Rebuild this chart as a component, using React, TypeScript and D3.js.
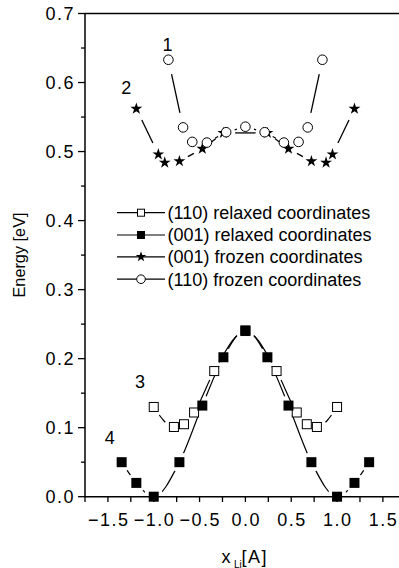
import React from 'react';
import * as d3 from 'd3';

const W = 399;
const H = 568;

// Li position (Å) and energy (eV) for each curve
const relaxed110X = [-1.0, -0.78, -0.67, -0.56, -0.34, 0, 0.34, 0.56, 0.67, 0.78, 1.0];
const relaxed110E = [0.13, 0.101, 0.105, 0.122, 0.182, 0.24, 0.182, 0.122, 0.105, 0.101, 0.13];
const relaxed001X = [-1.35, -1.19, -1.0, -0.72, -0.47, -0.24, 0, 0.24, 0.47, 0.72, 1.0, 1.19, 1.35];
const relaxed001E = [0.05, 0.02, 0.0, 0.05, 0.132, 0.202, 0.241, 0.202, 0.132, 0.05, 0.0, 0.02, 0.05];
const frozen001X = [-1.19, -0.95, -0.88, -0.72, -0.47, -0.24, 0.24, 0.47, 0.72, 0.88, 0.95, 1.19];
const frozen001E = [0.562, 0.496, 0.484, 0.486, 0.504, 0.527, 0.527, 0.504, 0.486, 0.484, 0.496, 0.562];
const frozen110X = [-0.84, -0.68, -0.58, -0.42, -0.21, 0, 0.21, 0.42, 0.58, 0.68, 0.84];
const frozen110E = [0.633, 0.535, 0.514, 0.513, 0.528, 0.536, 0.528, 0.513, 0.514, 0.535, 0.633];

const legendLabels = [
  '(110) relaxed coordinates',
  '(001) relaxed coordinates',
  '(001) frozen coordinates',
  '(110) frozen coordinates',
];
const curveNumbers = ['1', '2', '3', '4'];
const curveNumberPos = [
  [-0.85, 0.655],
  [-1.3, 0.592],
  [-1.15, 0.167],
  [-1.48, 0.086],
];

const xTicksMajor = [-1.5, -1.0, -0.5, 0.0, 0.5, 1.0, 1.5];
const xTicksAll = d3.range(-1.75, 1.76, 0.25);
const yTicksMajor = [0.0, 0.1, 0.2, 0.3, 0.4, 0.5, 0.6, 0.7];
const yTicksMinor = [0.05, 0.15, 0.25, 0.35, 0.45, 0.55, 0.65];

const FONT = '"Liberation Sans", Arial, sans-serif';

const x = d3.scaleLinear().domain([-1.75, 1.75]).range([85, 405.8]);
const y = d3.scaleLinear().domain([0, 0.7]).range([496.7, 13.5]);

type Pt = [number, number];
const pts = (xs: number[], es: number[]): Pt[] => xs.map((v, i) => [x(v), y(es[i])]);

const starPath = d3.symbol().type(d3.symbolStar).size(44)() as string;
const starPathSmall = d3.symbol().type(d3.symbolStar).size(34)() as string;

// straight segments that stop short of each marker
function GappedSegments({ p }: { p: Pt[] }) {
  const segs = [];
  for (let i = 0; i < p.length - 1; i++) {
    const [x0, y0] = p[i];
    const [x1, y1] = p[i + 1];
    const L = Math.hypot(x1 - x0, y1 - y0);
    const g = 6.5 + 0.12 * L;
    if (2 * g > L - 2) continue;
    const ux = (x1 - x0) / L;
    const uy = (y1 - y0) / L;
    segs.push(
      <line key={i} x1={x0 + ux * g} y1={y0 + uy * g} x2={x1 - ux * g} y2={y1 - uy * g}
        stroke="#000" strokeWidth={1.3} />
    );
  }
  return <g>{segs}</g>;
}

const smooth = d3.line<Pt>().x(d => d[0]).y(d => d[1]).curve(d3.curveMonotoneX);

export default function App() {
  const pR110 = pts(relaxed110X, relaxed110E);
  const pR001 = pts(relaxed001X, relaxed001E);
  const pF001 = pts(frozen001X, frozen001E);
  const pF110 = pts(frozen110X, frozen110E);

  const legendY = [212.7, 235, 256.8, 279.2];

  return (
    <svg width={W} height={H} style={{ position: 'absolute', left: 0, top: 0, background: '#fff' }}
      fontFamily={FONT}>
      <defs>
        <mask id="mR110" maskUnits="userSpaceOnUse" x={0} y={0} width={W} height={H}>
          <rect x={0} y={0} width={W} height={H} fill="#fff" />
          {pR110.map((d, i) => <circle key={i} cx={d[0]} cy={d[1]} r={10} fill="#000" />)}
        </mask>
        <mask id="mR001" maskUnits="userSpaceOnUse" x={0} y={0} width={W} height={H}>
          <rect x={0} y={0} width={W} height={H} fill="#fff" />
          {pR001.map((d, i) => <circle key={i} cx={d[0]} cy={d[1]} r={10} fill="#000" />)}
        </mask>
      </defs>

      {/* frame */}
      <line x1={85} y1={13.5} x2={W} y2={13.5} stroke="#000" strokeWidth={1.5} />
      <line x1={85} y1={13.5} x2={85} y2={496.7} stroke="#000" strokeWidth={1.5} />
      <line x1={84.25} y1={496.7} x2={W} y2={496.7} stroke="#000" strokeWidth={1.5} />

      {/* y ticks */}
      {yTicksMajor.map(t => (
        <g key={'ym' + t}>
          <line x1={78} x2={85} y1={y(t)} y2={y(t)} stroke="#000" strokeWidth={1.3} />
          <text x={75} y={y(t) + 6.4} textAnchor="end" fontSize={18} letterSpacing={1.5}>
            {d3.format('.1f')(t)}
          </text>
        </g>
      ))}
      {yTicksMinor.map(t => (
        <line key={'yn' + t} x1={81} x2={85} y1={y(t)} y2={y(t)} stroke="#000" strokeWidth={1.3} />
      ))}

      {/* x ticks */}
      {xTicksAll.map(t => (
        <line key={'xt' + t} x1={x(t)} x2={x(t)} y1={496.7} y2={502} stroke="#000" strokeWidth={1.3} />
      ))}
      {xTicksMajor.map(t => (
        <text key={'xl' + t} x={x(t) + 0.75} y={525.5} textAnchor="middle" fontSize={18} letterSpacing={1.5}>
          {d3.format('.1f')(t)}
        </text>
      ))}

      {/* axis titles */}
      <text transform="translate(25,255) rotate(-90)" textAnchor="middle" fontSize={16.3}>Energy [eV]</text>
      <text x={221.5} y={563} fontSize={18} letterSpacing={0.5}>x</text>
      <text x={234} y={567.5} fontSize={10}>Li</text>
      <text x={241.5} y={563} fontSize={18} letterSpacing={1.5}>[A]</text>

      {/* curves */}
      <path d={smooth(pR110) as string} fill="none" stroke="#000" strokeWidth={1.2} mask="url(#mR110)" />
      <path d={smooth(pR001) as string} fill="none" stroke="#000" strokeWidth={1.2} mask="url(#mR001)" />
      <GappedSegments p={pF001} />
      <GappedSegments p={pF110} />

      {/* markers */}
      {pR110.map((d, i) => (
        <rect key={'o' + i} x={d[0] - 4.5} y={d[1] - 4.5} width={9} height={9} fill="#fff" stroke="#000" strokeWidth={1} />
      ))}
      {pR001.map((d, i) => (
        <rect key={'f' + i} x={d[0] - 5} y={d[1] - 5} width={10} height={10} fill="#000" />
      ))}
      {pF001.map((d, i) => (
        <path key={'s' + i} d={starPath} transform={`translate(${d[0]},${d[1]})`} fill="#000" />
      ))}
      {pF110.map((d, i) => (
        <circle key={'c' + i} cx={d[0]} cy={d[1]} r={4.8} fill="#fff" stroke="#000" strokeWidth={1} />
      ))}

      {/* curve numbers */}
      {curveNumbers.map((n, i) => (
        <text key={'n' + n} x={x(curveNumberPos[i][0])} y={y(curveNumberPos[i][1]) + 6.4}
          textAnchor="middle" fontSize={18}>{n}</text>
      ))}

      {/* legend */}
      {legendLabels.map((lab, i) => {
        const ly = legendY[i];
        return (
          <g key={'lg' + i}>
            <line x1={117} x2={165} y1={ly} y2={ly} stroke="#000" strokeWidth={1.2} />
            {i === 0 && <rect x={137.5} y={ly - 3.5} width={7} height={7} fill="#fff" stroke="#000" strokeWidth={1} />}
            {i === 1 && <rect x={137} y={ly - 4} width={8} height={8} fill="#000" />}
            {i === 2 && <path d={starPathSmall} transform={`translate(141,${ly})`} fill="#000" />}
            {i === 3 && <circle cx={141} cy={ly} r={4.3} fill="#fff" stroke="#000" strokeWidth={1} />}
            <text x={167.5} y={ly + 6.4} fontSize={18}>{lab}</text>
          </g>
        );
      })}
    </svg>
  );
}
